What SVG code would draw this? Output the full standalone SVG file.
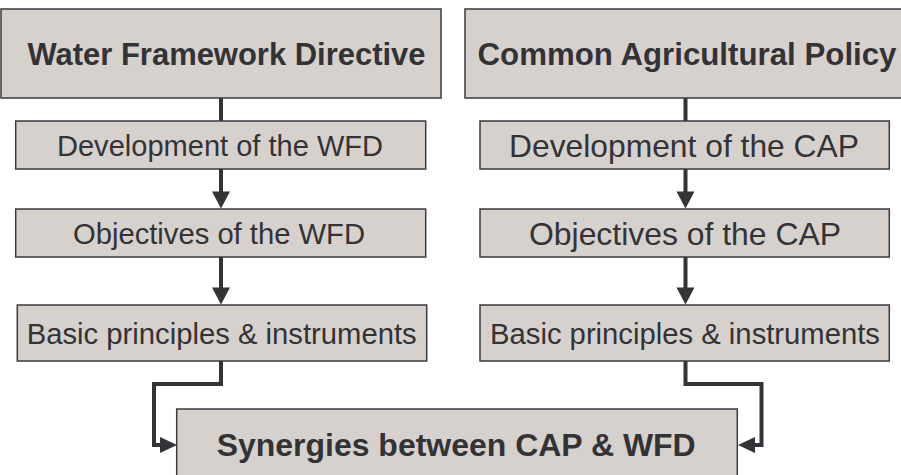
<svg xmlns="http://www.w3.org/2000/svg" width="901" height="475" viewBox="0 0 901 475">
<style>
.box{fill:#d7d1ce;stroke:#3a3a3e;stroke-width:1.5}
.t{font-family:"Liberation Sans",Arial,sans-serif;fill:#333336;text-anchor:middle}
.b{font-weight:bold}
.c{fill:none;stroke:#333338;stroke-width:4}
.ah{fill:#333338}
</style>
<rect width="901" height="475" fill="#ffffff"/>
<g id="connectors">
<line class="c" x1="221" y1="98" x2="221" y2="121"/>
<line class="c" x1="221" y1="169" x2="221" y2="194"/>
<polygon class="ah" points="212,191.5 230,191.5 221,208.5"/>
<line class="c" x1="221" y1="257" x2="221" y2="290"/>
<polygon class="ah" points="212,287.5 230,287.5 221,304.5"/>
<polyline class="c" points="221,361 221,384 154,384 154,445 162,445"/>
<polygon class="ah" points="160,437 160,453 177,445"/>
<line class="c" x1="685.5" y1="98" x2="685.5" y2="121"/>
<line class="c" x1="685.5" y1="169" x2="685.5" y2="194"/>
<polygon class="ah" points="676.5,191.5 694.5,191.5 685.5,208.5"/>
<line class="c" x1="685.5" y1="257" x2="685.5" y2="290"/>
<polygon class="ah" points="676.5,287.5 694.5,287.5 685.5,304.5"/>
<polyline class="c" points="685.5,361 685.5,384 761.5,384 761.5,445 753,445"/>
<polygon class="ah" points="755,437 755,453 738,445"/>
</g>
<g id="wfd">
<rect class="box" x="1" y="9" width="440" height="89"/>
<text class="t b" x="226.5" y="64.5" font-size="31" textLength="398" lengthAdjust="spacingAndGlyphs">Water Framework Directive</text>
</g>
<g id="cap">
<rect class="box" x="465" y="9" width="460" height="89"/>
<text class="t b" x="687" y="64.5" font-size="31" textLength="419" lengthAdjust="spacingAndGlyphs">Common Agricultural Policy</text>
</g>
<g id="dev-wfd">
<rect class="box" x="15.7" y="121" width="410" height="48"/>
<text class="t" x="220" y="155.5" font-size="29" textLength="326" lengthAdjust="spacingAndGlyphs">Development of the WFD</text>
</g>
<g id="obj-wfd">
<rect class="box" x="15.7" y="209" width="410" height="48"/>
<text class="t" x="219" y="243.5" font-size="29" textLength="292" lengthAdjust="spacingAndGlyphs">Objectives of the WFD</text>
</g>
<g id="basic-wfd">
<rect class="box" x="17.3" y="305" width="409.4" height="56"/>
<text class="t" x="221.7" y="343.5" font-size="29" textLength="390" lengthAdjust="spacingAndGlyphs">Basic principles &amp; instruments</text>
</g>
<g id="dev-cap">
<rect class="box" x="480" y="121" width="409.3" height="48"/>
<text class="t" x="684" y="156.5" font-size="32" textLength="350" lengthAdjust="spacingAndGlyphs">Development of the CAP</text>
</g>
<g id="obj-cap">
<rect class="box" x="480" y="209" width="409.3" height="48"/>
<text class="t" x="685" y="244.5" font-size="32" textLength="312" lengthAdjust="spacingAndGlyphs">Objectives of the CAP</text>
</g>
<g id="basic-cap">
<rect class="box" x="480" y="305" width="409.3" height="56"/>
<text class="t" x="685" y="343.5" font-size="29" textLength="390" lengthAdjust="spacingAndGlyphs">Basic principles &amp; instruments</text>
</g>
<g id="synergies">
<rect class="box" x="176.7" y="409" width="560.6" height="90"/>
<text class="t b" x="456.2" y="456" font-size="31" textLength="479" lengthAdjust="spacingAndGlyphs">Synergies between CAP &amp; WFD</text>
</g>
</svg>
